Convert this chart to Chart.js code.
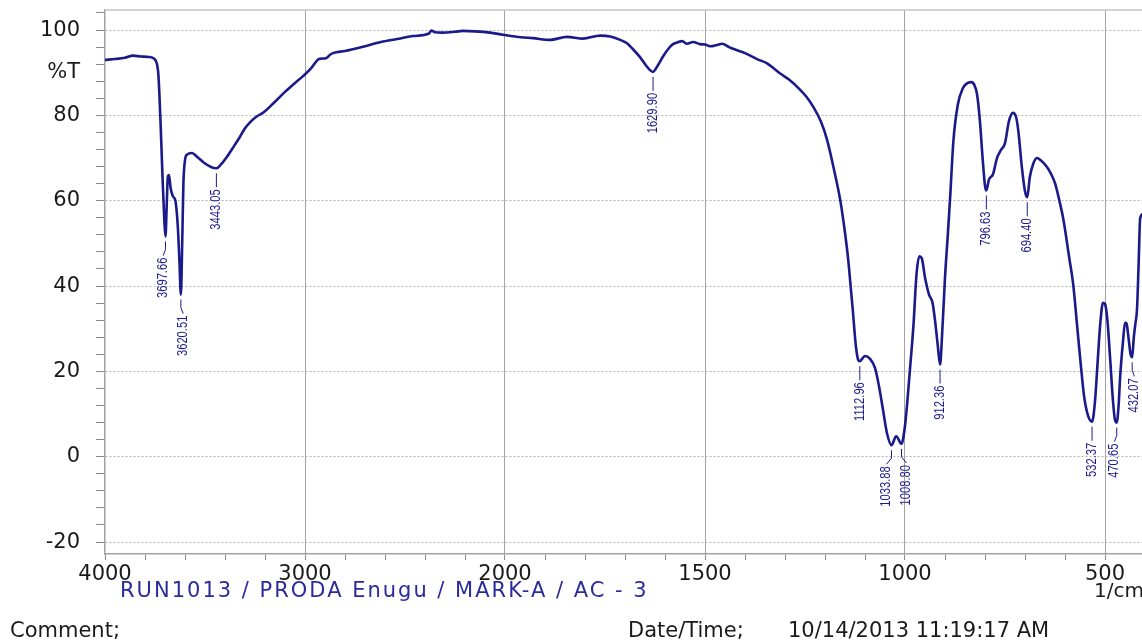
<!DOCTYPE html>
<html>
<head>
<meta charset="utf-8">
<script src="https://cdn.jsdelivr.net/npm/chart.js@4"></script>
<style>
  body { margin: 0; overflow: hidden; background: #fff; }
  #wrap { position: relative; width: 1150px; height: 641px; }
  .txt { position: absolute; font-family: "DejaVu Sans", sans-serif; font-size: 21px; line-height: 21px; white-space: nowrap; color: #1a1a1a; }
</style>
</head>
<body>
<div id="wrap">
  <canvas id="ir" width="1150" height="641"></canvas>
  <div class="txt" style="left:120px; top:580px; color:#2b2b9b; letter-spacing:2px;">RUN1013 / PRODA Enugu / MARK-A / AC - 3</div>
  <div class="txt" style="left:1094px; top:580px; font-size:20px;">1/cm</div>
  <div class="txt" style="left:10px; top:620px;">Comment;</div>
  <div class="txt" style="left:628px; top:620px;">Date/Time;</div>
  <div class="txt" style="left:788px; top:620px;">10/14/2013 11:19:17 AM</div>
</div>
<script>
// spectrum (1/cm, %T)
const wavenumbers = [
  4000, 3950, 3900, 3860, 3820, 3780, 3755, 3740, 3733, 3722, 3712, 3703, 3697.66, 3692, 3686, 3680,
  3672, 3660, 3648, 3636, 3628, 3620.51, 3614, 3608, 3600, 3590, 3565, 3540, 3505, 3470, 3443.05, 3420,
  3390, 3355, 3325, 3300, 3270, 3240, 3210, 3150, 3100, 3050, 3010, 2970, 2935, 2920, 2895, 2875,
  2860, 2800, 2710, 2620, 2540, 2460, 2380, 2368, 2350, 2310, 2250, 2210, 2150, 2075, 2010, 1960,
  1930, 1887, 1845, 1805, 1762, 1737, 1712, 1695, 1680, 1662, 1645, 1629.90, 1618, 1605, 1590, 1580,
  1570, 1557, 1545, 1530, 1512, 1500, 1487, 1470, 1457, 1440, 1430, 1400, 1370, 1345, 1312, 1290,
  1262, 1245, 1230, 1210, 1195, 1178, 1162, 1150, 1142, 1135, 1130, 1124, 1118, 1112.96, 1100, 1088,
  1075, 1065, 1055, 1045, 1033.88, 1022, 1008.80, 1001, 995, 988, 979, 971, 964, 958, 950, 940,
  931, 925, 918, 912.36, 907, 900, 893, 887, 879, 868, 855, 845, 835, 827, 820, 813,
  806, 800, 796.63, 790, 780, 770, 760, 750, 740, 730, 722, 716, 708, 700, 694.40, 688,
  680, 670, 660, 646, 635, 625, 614, 604, 590, 579, 570, 562, 552, 542, 532.37, 525,
  518, 512, 505, 500, 494, 487, 480, 475, 470.65, 466, 462, 455, 450, 446, 442, 436,
  432.07, 428, 424, 420, 416, 412, 402
];
const transmittance = [
  93.0, 93.2, 93.5, 94.0, 93.8, 93.7, 93.3, 92.0, 89.5, 78, 65, 55, 51.6, 58, 65.5, 66.0,
  63, 61, 60, 54, 46, 38.0, 50, 64, 69.5, 70.8, 71.2, 70.3, 68.9, 67.9, 67.6, 68.5,
  70.3, 72.8, 75.0, 77.0, 78.6, 79.8, 80.6, 83.2, 85.5, 87.6, 89.2, 91.0, 93.1, 93.3, 93.4, 94.2,
  94.6, 95.1, 96.1, 97.2, 97.9, 98.6, 99.2, 99.9, 99.5, 99.4, 99.6, 99.8, 99.7, 99.4, 98.9, 98.3,
  98.1, 97.7, 98.4, 98.0, 98.7, 98.5, 97.7, 96.9, 95.5, 93.6, 91.4, 90.2, 91.7, 93.8, 95.8, 96.7,
  97.1, 97.4, 96.8, 97.2, 96.7, 96.6, 96.2, 96.5, 96.8, 96.0, 95.6, 94.6, 93.2, 92.2, 89.8, 88.4,
  86.0, 84.2, 82.1, 78.5, 74.3, 67.5, 60.2, 52.5, 46.2, 39.0, 33.8, 27.0, 23.0, 22.4, 23.6, 23.0,
  20.8, 16.5, 11.0, 5.5, 2.7, 4.8, 3.0, 6.5, 12, 20, 30.6, 43, 47.0, 46.5, 42.0, 38.0,
  36.0, 32.0, 26.0, 21.6, 29, 42, 52, 61, 74, 82.5, 86.4, 87.5, 87.8, 87.2, 85.0, 79.0,
  70.0, 63.5, 62.4, 65.0, 66.2, 70.0, 71.9, 73.5, 78.7, 80.6, 79.5, 75.8, 68.0, 62.2, 60.8, 65.5,
  68.5, 70.0, 69.4, 68.0, 66.3, 64.1, 60.0, 55.6, 47.0, 40.0, 31.0, 23.0, 14.0, 9.5, 8.2, 13.0,
  22.8, 31.0, 36.1, 35.8, 32.0, 22.8, 13.0, 8.6, 8.0, 12.0, 18.9, 27.0, 31.4, 31.2, 28.5, 24.0,
  23.3, 28.0, 31.2, 34.5, 45.0, 56.0, 57.0
];
const peakWavenumbers = [3697.66, 3620.51, 3443.05, 1629.90, 1112.96, 1033.88, 1008.80, 912.36, 796.63, 694.40, 532.37, 470.65, 432.07];
const xTickLabels = [4000, 3000, 2000, 1500, 1000, 500];
const yTickLabels = [100, 80, 60, 40, 20, 0, -20];
const yUnit = '%T';

const lineColor = '#1a1a8a';

// the axis is scaled 1000/div above 2000 and 500/div below it
function toPos(wn) {
  return wn >= 2000 ? (4000 - wn) / 1000 : 2 + (2000 - wn) / 500;
}
function fromPos(p) {
  return p <= 2 ? 4000 - 1000 * p : 2000 - 500 * (p - 2);
}
const isInt = (v) => Math.abs(v - Math.round(v)) < 1e-6;

const topBorder = {
  id: 'topBorder',
  beforeDatasetsDraw(chart) {
    const { ctx, chartArea } = chart;
    ctx.save();
    ctx.strokeStyle = '#c4c4c4';
    ctx.lineWidth = 1.5;
    ctx.beginPath();
    ctx.moveTo(chartArea.left, chartArea.top);
    ctx.lineTo(chartArea.right, chartArea.top);
    ctx.stroke();
    ctx.restore();
  }
};

const peakLabels = {
  id: 'peakLabels',
  afterDatasetsDraw(chart) {
    const { ctx, scales: { x, y } } = chart;
    const pts = peakWavenumbers.map((wn) => {
      const i = wavenumbers.indexOf(wn);
      return { wn, px: x.getPixelForValue(toPos(wn)), py: y.getPixelForValue(transmittance[i]) };
    });
    // push apart labels that sit too close
    const tx = pts.map((p) => p.px);
    for (let i = 1; i < tx.length; i++) {
      const gap = tx[i] - tx[i - 1];
      if (gap < 20) {
        const d = (20 - gap) / 2;
        tx[i - 1] -= d;
        tx[i] += d;
      }
    }
    ctx.save();
    ctx.strokeStyle = lineColor;
    ctx.fillStyle = lineColor;
    ctx.lineWidth = 1;
    ctx.font = '14px "Liberation Sans", Arial, sans-serif';
    ctx.textBaseline = 'middle';
    pts.forEach((p, i) => {
      const start = p.py + 5;
      const bend = p.py + 13;
      const end = p.py + 19;
      ctx.beginPath();
      ctx.moveTo(p.px, start);
      ctx.lineTo(p.px, bend);
      ctx.lineTo(tx[i], end);
      ctx.stroke();
      ctx.save();
      ctx.translate(tx[i], end + 2);
      ctx.rotate(-Math.PI / 2);
      ctx.scale(0.8, 1);
      ctx.textAlign = 'right';
      ctx.fillText(p.wn.toFixed(2), 0, 0);
      ctx.restore();
    });
    ctx.restore();
  }
};

const points = wavenumbers.map((wn, i) => ({ x: toPos(wn), y: transmittance[i] }));

new Chart(document.getElementById('ir'), {
  type: 'line',
  data: {
    datasets: [{
      data: points,
      borderColor: lineColor,
      borderWidth: 2.6,
      pointRadius: 0,
      cubicInterpolationMode: 'monotone',
      fill: false
    }]
  },
  options: {
    responsive: false,
    animation: false,
    devicePixelRatio: 1,
    layout: { padding: { left: 0, top: 10, right: 5, bottom: 0 } },
    plugins: { legend: { display: false }, tooltip: { enabled: false } },
    scales: {
      x: {
        type: 'linear',
        min: 0,
        max: 5.2,
        afterBuildTicks: (scale) => {
          const t = [];
          for (let i = 0; i <= 26; i++) t.push({ value: Math.round(i * 2) / 10 });
          scale.ticks = t;
        },
        afterFit: (scale) => {
          scale.height = 87;
          scale.paddingLeft = 0;
          scale.paddingRight = 0;
        },
        ticks: {
          autoSkip: false,
          maxRotation: 0,
          minRotation: 0,
          padding: 2,
          color: '#1a1a1a',
          font: { family: 'DejaVu Sans', size: 21 },
          callback: (v) => {
            if (!isInt(v)) return '';
            const wn = Math.round(fromPos(v));
            return xTickLabels.includes(wn) ? String(wn) : '';
          }
        },
        grid: {
          color: (c) => (c.tick && isInt(c.tick.value) && c.tick.value > 0) ? '#a2a2a2' : 'rgba(0,0,0,0)',
          tickColor: '#8a8a8a',
          tickLength: 6,
          lineWidth: 1
        },
        border: { color: '#a2a2a2', width: 1.5 }
      },
      y: {
        type: 'linear',
        min: -22.8,
        max: 104.7,
        afterBuildTicks: (scale) => {
          const t = [];
          for (let v = -20; v <= 104; v += 4) t.push({ value: v });
          t.push({ value: 90 });
          t.sort((a, b) => a.value - b.value);
          scale.ticks = t;
        },
        afterFit: (scale) => {
          scale.width = 105;
          scale.paddingTop = 0;
          scale.paddingBottom = 0;
        },
        ticks: {
          autoSkip: false,
          padding: 16,
          color: '#1a1a1a',
          font: { family: 'DejaVu Sans', size: 21 },
          callback: (v) => {
            if (v === 90) return yUnit;
            return yTickLabels.includes(v) ? String(v) : '';
          }
        },
        grid: {
          color: (c) => (c.tick && c.tick.value % 20 === 0) ? '#b4b4b4' : 'rgba(0,0,0,0)',
          tickColor: (c) => (c.tick && c.tick.value === 90) ? 'rgba(0,0,0,0)' : '#8a8a8a',
          tickLength: 9,
          tickBorderDash: [],
          lineWidth: 1
        },
        border: { color: '#a2a2a2', width: 1.5, dash: [2, 2] }
      }
    }
  },
  plugins: [topBorder, peakLabels]
});
</script>
</body>
</html>
